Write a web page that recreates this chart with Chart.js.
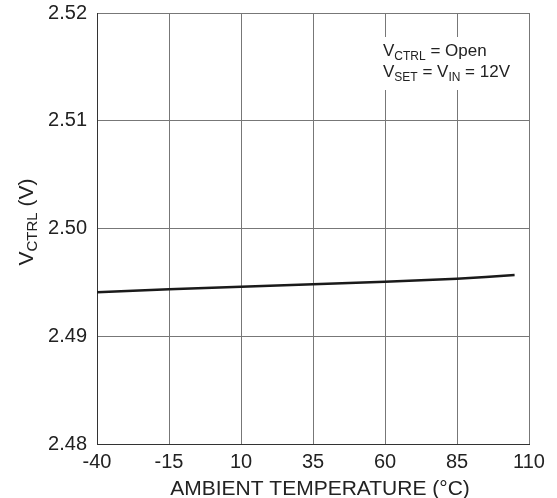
<!DOCTYPE html>
<html>
<head>
<meta charset="utf-8">
<script src="https://cdn.jsdelivr.net/npm/chart.js@4.4.0/dist/chart.umd.min.js"></script>
<style>
  html, body { margin: 0; padding: 0; background: #fff; }
</style>
</head>
<body>
<canvas id="myChart" width="557" height="498"></canvas>
<script>
// control voltage vs ambient temperature
const temps = [-40, -15, 10, 35, 60, 85, 105];
const vctrl = [2.49408, 2.49436, 2.4946, 2.49482, 2.49506, 2.49534, 2.49568];

const xTicks = [-40, -15, 10, 35, 60, 85, 110];
const yTicks = [2.48, 2.49, 2.50, 2.51, 2.52];

const FONT = '"Liberation Sans", Arial, sans-serif';

// draws text runs, some of them as subscripts
function drawSub(ctx, parts, x, y, size, subSize) {
    parts.forEach(p => {
        const isSub = p[1];
        ctx.font = (isSub ? subSize : size) + 'px ' + FONT;
        ctx.fillText(p[0], x, isSub ? y + 4 : y);
        x += ctx.measureText(p[0]).width;
    });
    return x;
}

function measureSub(ctx, parts, size, subSize) {
    let w = 0;
    parts.forEach(p => {
        ctx.font = (p[1] ? subSize : size) + 'px ' + FONT;
        w += ctx.measureText(p[0]).width;
    });
    return w;
}

const textPlugin = {
    id: 'textPlugin',
    afterDraw(chart) {
        const ctx = chart.ctx;
        ctx.save();
        ctx.textAlign = 'left';
        ctx.textBaseline = 'alphabetic';

        // white box under the test conditions
        ctx.fillStyle = '#fff';
        ctx.fillRect(377, 37, 138, 53);
        ctx.fillStyle = '#222';
        drawSub(ctx, [['V', 0], ['CTRL', 1], [' = Open', 0]], 383, 56, 17, 12);
        drawSub(ctx, [['V', 0], ['SET', 1], [' = V', 0], ['IN', 1], [' = 12V', 0]], 383, 77, 17, 12);

        // x axis title
        ctx.font = '21px ' + FONT;
        ctx.textAlign = 'center';
        ctx.fillText('AMBIENT TEMPERATURE (°C)', 320, 495);

        // y axis title, rotated
        ctx.textAlign = 'left';
        const yParts = [['V', 0], ['CTRL', 1], [' (V)', 0]];
        const w = measureSub(ctx, yParts, 21, 15);
        ctx.translate(33, 222);
        ctx.rotate(-Math.PI / 2);
        drawSub(ctx, yParts, -w / 2, 0, 21, 15);
        ctx.restore();
    }
};

const ctx = document.getElementById('myChart').getContext('2d');
const myChart = new Chart(ctx, {
    type: 'line',
    data: {
        datasets: [{
            data: temps.map((t, i) => ({ x: t, y: vctrl[i] })),
            borderColor: '#1a1a1a',
            borderWidth: 2.5,
            pointRadius: 0,
            tension: 0.2,
            fill: false
        }]
    },
    options: {
        responsive: false,
        animation: false,
        layout: { padding: { top: 13, right: 28, left: 0, bottom: 0 } },
        plugins: {
            legend: { display: false },
            tooltip: { enabled: false }
        },
        scales: {
            x: {
                type: 'linear',
                min: -40,
                max: 110,
                afterBuildTicks: s => { s.ticks = xTicks.map(v => ({ value: v })); },
                afterFit: s => { s.height = 54; },
                ticks: {
                    font: { family: FONT, size: 20 },
                    color: '#222',
                    padding: 6,
                    maxRotation: 0,
                    autoSkip: false,
                    callback: v => v
                },
                grid: { color: '#777', drawTicks: false },
                border: { color: '#333' }
            },
            y: {
                min: 2.48,
                max: 2.52,
                afterBuildTicks: s => { s.ticks = yTicks.map(v => ({ value: v })); },
                afterFit: s => {
                    s.width = 97;
                    s.paddingTop = 0;
                    s.paddingBottom = 0;
                },
                ticks: {
                    font: { family: FONT, size: 20 },
                    color: '#222',
                    padding: 10,
                    callback: v => v.toFixed(2)
                },
                grid: { color: '#777', drawTicks: false },
                border: { color: '#333' }
            }
        }
    },
    plugins: [textPlugin]
});
</script>
</body>
</html>
